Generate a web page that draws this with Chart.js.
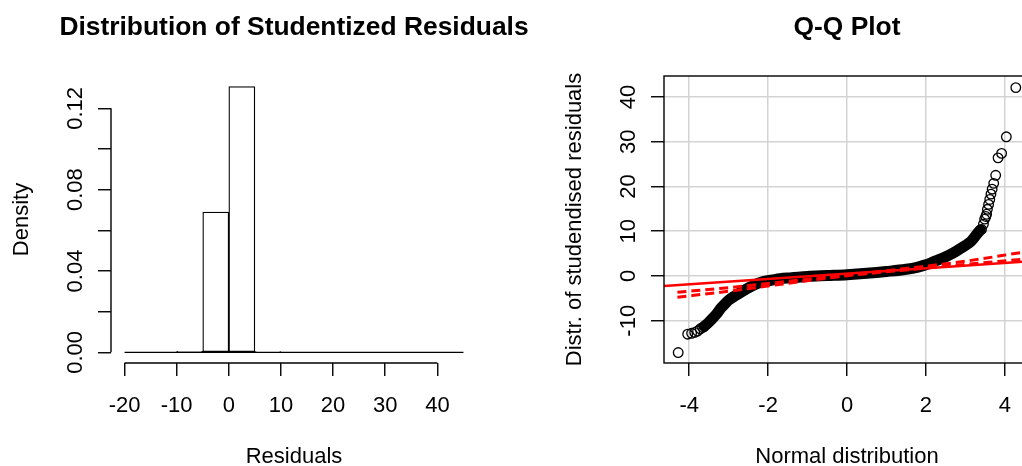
<!DOCTYPE html>
<html>
<head>
<meta charset="utf-8">
<script src="https://cdn.jsdelivr.net/npm/chart.js@4"></script>
<style>
  html, body { margin: 0; padding: 0; background: #fff; overflow: hidden; }
  #wrap { position: relative; width: 1022px; height: 466px; overflow: hidden; }
  canvas { position: absolute; top: 0; }
  #histChart { left: 0; }
  #qqChart { left: 560px; }
</style>
</head>
<body>
<div id="wrap">
  <canvas id="histChart" width="560" height="466"></canvas>
  <canvas id="qqChart" width="540" height="466"></canvas>
</div>
<script>
// Histogram: bin edges and density of each bin
const binEdges = [-20, -15, -10, -5, 0, 5, 10, 15, 20, 25, 30, 35, 40, 45];
const binDensity = [0, 0, 0.0005, 0.0690, 0.1307, 0.0004, 0, 0, 0, 0, 0, 0, 0];
const histXTicks = [-20, -10, 0, 10, 20, 30, 40];
const histYTicks = [0, 0.02, 0.04, 0.06, 0.08, 0.10, 0.12];
const histYLabels = ['0.00', '', '0.04', '', '0.08', '', '0.12'];

// Q-Q plot: the dense run of points (drawn as one thick stroke)
const bandX = [-3.62, -3.5, -3.4, -3.3, -3.2, -3.1, -3.0, -2.85, -2.7, -2.55, -2.4, -2.25, -2.1, -1.9, -1.7, -1.4, -1.0, -0.5, 0, 0.5, 1.0, 1.5, 1.8, 2.0, 2.2, 2.4, 2.6, 2.8, 3.0, 3.15, 3.28, 3.38];
const bandY = [-11.3, -10.3, -9.4, -8.4, -7.2, -6.3, -5.4, -4.5, -3.7, -2.9, -2.2, -1.6, -1.2, -0.9, -0.6, -0.4, -0.1, 0.1, 0.3, 0.6, 1.0, 1.5, 2.0, 2.5, 3.2, 3.9, 4.7, 5.7, 6.8, 7.8, 9.2, 10.3];
// Q-Q plot: separate points in the tails
const tailX = [-4.28, -4.04, -3.94, -3.86, -3.79, -3.72, -3.66, 3.41, 3.46, 3.49, 3.52, 3.54, 3.56, 3.59, 3.62, 3.65, 3.68, 3.72, 3.77, 3.83, 3.92, 4.04, 4.28];
const tailY = [-17.1, -13.0, -12.8, -12.6, -12.3, -11.8, -11.5, 10.4, 11.6, 12.7, 13.3, 13.8, 14.9, 16.0, 17.1, 18.3, 19.4, 20.7, 22.5, 26.4, 27.4, 31.1, 42.1];
// reference lines
const solidLineX = [-4.64, 4.64];
const solidLineY = [-2.24, 3.32];
const dashX = [-4.3, -3.0, -1.5, 0, 1.5, 3.0, 4.45];
const dashUpperY = [-3.65, -2.6, -1.2, 0.25, 1.7, 3.3, 5.3];
const dashLowerY = [-4.75, -3.4, -1.65, 0.05, 1.35, 2.6, 3.75];
const qqXTicks = [-4, -2, 0, 2, 4];
const qqYTicks = [-10, 0, 10, 20, 30, 40];

const FONT = '"Liberation Sans", Arial, sans-serif';

function toPoints(xs, ys) {
  return xs.map((x, i) => ({ x: x, y: ys[i] }));
}

// Titles, rotated tick labels and R-like axis lines
function rDecor(opts) {
  return {
    id: 'rDecor',
    afterDraw(chart) {
      const { ctx, chartArea: a, scales } = chart;
      const xs = scales.x, ys = scales.y;
      const cx = (a.left + a.right) / 2;
      const cy = (a.top + a.bottom) / 2;
      ctx.save();
      ctx.fillStyle = '#000';
      ctx.strokeStyle = '#000';
      ctx.textBaseline = 'alphabetic';
      ctx.textAlign = 'center';

      ctx.font = 'bold 26.4px ' + FONT;
      ctx.fillText(opts.title, cx, 35);

      ctx.font = '22px ' + FONT;
      ctx.fillText(opts.xTitle, cx, 463);

      opts.xTicks.forEach(v => {
        ctx.fillText(String(v), xs.getPixelForValue(v), 412);
      });

      opts.yTicks.forEach((v, i) => {
        const label = opts.yLabels ? opts.yLabels[i] : String(v);
        if (!label) return;
        ctx.save();
        ctx.translate(a.left - 29.5, ys.getPixelForValue(v));
        ctx.rotate(-Math.PI / 2);
        ctx.fillText(label, 0, 0);
        ctx.restore();
      });

      ctx.save();
      ctx.translate(a.left - 83.5, cy);
      ctx.rotate(-Math.PI / 2);
      ctx.fillText(opts.yTitle, 0, 0);
      ctx.restore();

      ctx.lineWidth = 1.4;
      if (opts.box) {
        ctx.strokeRect(a.left, a.top, a.right - a.left, a.bottom - a.top);
      } else {
        const xt = opts.xTicks, yt = opts.yTicks;
        ctx.beginPath();
        ctx.moveTo(xs.getPixelForValue(xt[0]), a.bottom);
        ctx.lineTo(xs.getPixelForValue(xt[xt.length - 1]), a.bottom);
        ctx.moveTo(a.left, ys.getPixelForValue(yt[0]));
        ctx.lineTo(a.left, ys.getPixelForValue(yt[yt.length - 1]));
        ctx.stroke();
      }
      ctx.restore();
    }
  };
}

// linear axis with outside tick marks only; size of the axis box is fixed
function axis(min, max, ticks, size, isX, grid) {
  return {
    type: 'linear',
    min: min,
    max: max,
    offset: false,
    border: { display: false },
    ticks: { display: false },
    grid: {
      offset: false,
      drawOnChartArea: grid,
      color: '#d3d3d3',
      lineWidth: 1.5,
      drawTicks: true,
      tickLength: 13,
      tickColor: '#000',
      tickWidth: 1.4
    },
    afterBuildTicks: s => { s.ticks = ticks.map(v => ({ value: v })); },
    afterFit: s => {
      if (isX) s.height = size;
      else s.width = size;
    }
  };
}

function buildHistChart() {
  const ctx = document.getElementById('histChart').getContext('2d');
  const mids = binDensity.map((d, i) => (binEdges[i] + binEdges[i + 1]) / 2);
  new Chart(ctx, {
    type: 'bar',
    data: {
      datasets: [
        {
          type: 'line',
          data: [{ x: binEdges[0], y: 0 }, { x: binEdges[binEdges.length - 1], y: 0 }],
          borderColor: '#000',
          borderWidth: 1.4,
          pointRadius: 0
        },
        {
          type: 'bar',
          data: toPoints(mids, binDensity),
          backgroundColor: '#fff',
          borderColor: '#000',
          borderWidth: 1.3,
          borderSkipped: false,
          barPercentage: 1,
          categoryPercentage: 1
        }
      ]
    },
    options: {
      responsive: false,
      animation: false,
      events: [],
      layout: { padding: { top: 76, left: 0, right: 83, bottom: 0 } },
      scales: {
        x: axis(-22.6, 47.6, histXTicks, 103, true, false),
        y: axis(-0.00523, 0.1359, histYTicks, 111, false, false)
      },
      plugins: { legend: { display: false }, tooltip: { enabled: false } }
    },
    plugins: [rDecor({
      title: 'Distribution of Studentized Residuals',
      xTitle: 'Residuals',
      yTitle: 'Density',
      xTicks: histXTicks,
      yTicks: histYTicks,
      yLabels: histYLabels,
      box: false
    })]
  });
}

function buildQQChart() {
  const ctx = document.getElementById('qqChart').getContext('2d');
  new Chart(ctx, {
    type: 'scatter',
    data: {
      datasets: [
        {
          type: 'line',
          data: toPoints(solidLineX, solidLineY),
          borderColor: '#ff0000',
          borderWidth: 2.5,
          pointRadius: 0
        },
        {
          type: 'line',
          data: toPoints(dashX, dashUpperY),
          borderColor: '#ff0000',
          borderWidth: 3,
          borderDash: [9, 5],
          pointRadius: 0,
          cubicInterpolationMode: 'monotone'
        },
        {
          type: 'line',
          data: toPoints(dashX, dashLowerY),
          borderColor: '#ff0000',
          borderWidth: 3,
          borderDash: [9, 5],
          pointRadius: 0,
          cubicInterpolationMode: 'monotone'
        },
        {
          data: toPoints(tailX, tailY),
          pointStyle: 'circle',
          pointRadius: 4.8,
          borderWidth: 1.3,
          borderColor: '#000',
          backgroundColor: 'rgba(0,0,0,0)'
        },
        {
          type: 'line',
          data: toPoints(bandX, bandY),
          borderColor: '#000',
          borderWidth: 11,
          borderCapStyle: 'round',
          borderJoinStyle: 'round',
          cubicInterpolationMode: 'monotone',
          pointRadius: 0
        }
      ]
    },
    options: {
      responsive: false,
      animation: false,
      events: [],
      layout: { padding: { top: 76, left: 0, right: 70, bottom: 0 } },
      scales: {
        x: axis(-4.64, 4.64, qqXTicks, 103, true, true),
        y: axis(-19.44, 44.69, qqYTicks, 104, false, true)
      },
      plugins: { legend: { display: false }, tooltip: { enabled: false } }
    },
    plugins: [rDecor({
      title: 'Q-Q Plot',
      xTitle: 'Normal distribution',
      yTitle: 'Distr. of studendised residuals',
      xTicks: qqXTicks,
      yTicks: qqYTicks,
      box: true
    })]
  });
}

buildHistChart();
buildQQChart();
</script>
</body>
</html>
